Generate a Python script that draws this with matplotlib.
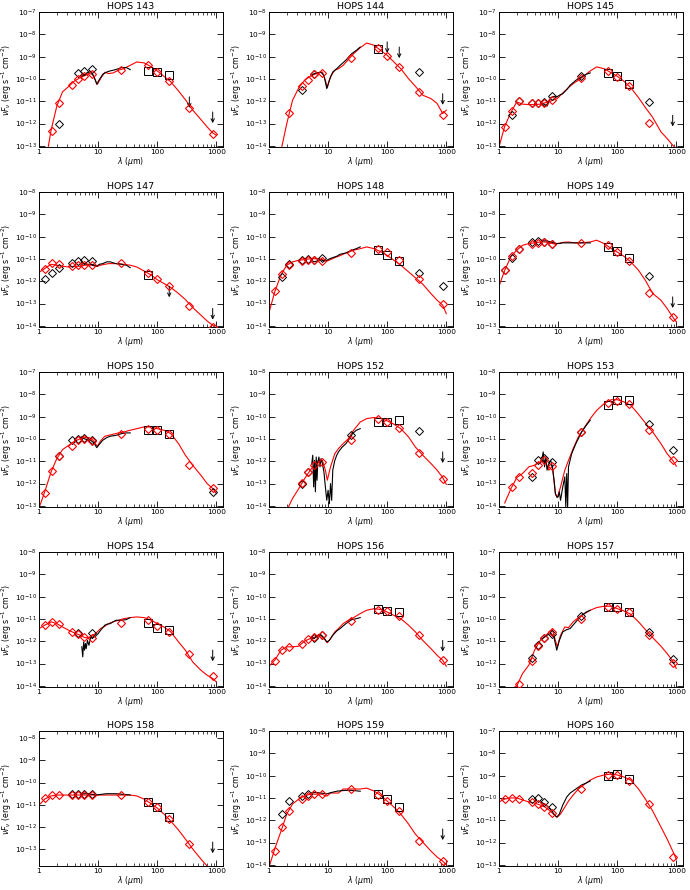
import numpy as np
import matplotlib
matplotlib.use("Agg")
import matplotlib.pyplot as plt
import matplotlib.ticker as ticker

# photometry bands (um): 2MASS, IRAC, MIPS24, PACS 70/100/160, SABOCA, LABOCA
PHOT_WL = [1.25, 1.65, 2.17, 3.6, 4.5, 5.8, 8.0, 24, 70, 100, 160, 350, 870]
# wavelengths at which the model curves were read (um)
SED_WL = [1.0, 1.25, 1.6, 2.0, 2.5, 3.2, 4.0, 5.0, 6.0, 7.0, 8.0, 9.0, 9.7, 11, 13, 15,
          18, 22, 27, 35, 45, 60, 80, 100, 130, 170, 230, 300, 400, 550, 700, 870, 1000]
# wavelengths at which the IRS spectra were read (um)
IRS_WL = [5.2, 5.8, 6.5, 7.5, 8.5, 9.5, 10.5, 12, 14, 16, 20, 25, 30, 35]

names = ['HOPS 143', 'HOPS 144', 'HOPS 145', 'HOPS 147', 'HOPS 148', 'HOPS 149',
         'HOPS 150', 'HOPS 152', 'HOPS 153', 'HOPS 154', 'HOPS 156', 'HOPS 157',
         'HOPS 158', 'HOPS 159', 'HOPS 160']
# log10 of the top of each y axis
ytop = [-7, -8, -7, -8, -8, -7, -7, -8, -8, -8, -8, -7, -7.69, -8, -7]

# all fluxes below are log10(nu F_nu / erg s^-1 cm^-2)
# ---- model SED curves (on SED_WL) ----
sed_143 = [None, -14.0, -12.3, -11.22, -10.58, -10.33, -10.09, -9.94, -9.85, -9.76, -9.79, -10.06, -10.24, -9.99, -9.7, -9.76, -9.73, -9.61, -9.54, -9.39, -9.24, -9.28, -9.46, -9.64, -9.88, -10.13, -10.54, -10.93, -11.4, -11.82, -12.15, -12.42, -12.52]
sed_144 = [None, None, -14.2, -13.0, -11.96, -11.39, -11.06, -10.88, -10.79, -10.73, -10.69, -11.06, -11.39, -10.88, -10.61, -10.54, -10.39, -10.13, -9.87, -9.6, -9.39, -9.49, -9.75, -9.94, -10.24, -10.54, -10.99, -11.33, -11.73, -11.88, -12.1, -12.55, -12.4]
sed_145 = [-13.05, -12.12, -11.48, -11.03, -11.13, -11.15, -11.15, -11.13, -11.07, -11.03, -10.96, -10.91, -10.88, -10.73, -10.54, -10.39, -10.21, -10.06, -9.88, -9.64, -9.46, -9.54, -9.73, -9.88, -10.1, -10.39, -10.84, -11.28, -11.73, -12.37, -12.67, -12.97, -13.12]
sed_147 = [-11.6, -11.43, -11.24, -11.28, -11.33, -11.36, -11.33, -11.33, -11.28, -11.28, -11.28, -11.33, -11.33, -11.28, -11.24, -11.21, -11.21, -11.21, -11.24, -11.28, -11.36, -11.54, -11.73, -11.93, -12.1, -12.28, -12.55, -12.82, -13.18, -13.52, -13.78, -13.97, -14.12]
sed_148 = [-13.4, -12.48, -11.7, -11.28, -11.13, -11.06, -11.03, -10.99, -10.99, -10.99, -11.03, -11.09, -11.09, -11.03, -10.94, -10.88, -10.79, -10.69, -10.61, -10.54, -10.46, -10.54, -10.69, -10.84, -11.06, -11.28, -11.58, -11.84, -12.13, -12.55, -12.85, -13.07, -13.45]
sed_149 = [-11.22, -10.51, -9.88, -9.61, -9.39, -9.31, -9.28, -9.24, -9.24, -9.27, -9.31, -9.34, -9.31, -9.28, -9.25, -9.24, -9.27, -9.28, -9.27, -9.24, -9.16, -9.31, -9.54, -9.69, -9.88, -10.13, -10.51, -10.96, -11.55, -11.85, -12.22, -12.6, -12.82]
sed_150 = [-13.1, -12.37, -11.48, -10.88, -10.48, -10.28, -10.1, -9.99, -9.94, -9.94, -10.03, -10.21, -10.33, -10.09, -9.88, -9.84, -9.79, -9.73, -9.69, -9.61, -9.54, -9.46, -9.46, -9.54, -9.61, -9.76, -10.21, -10.73, -11.18, -11.63, -12.0, -12.22, -12.45]
sed_152 = [None, None, None, -14.2, -13.67, -13.22, -12.78, -12.4, -12.13, -11.96, -11.96, -12.4, -12.85, -12.25, -11.66, -11.43, -11.21, -10.99, -10.61, -10.24, -10.09, -10.04, -10.09, -10.19, -10.34, -10.54, -10.91, -11.36, -11.73, -12.1, -12.4, -12.73, -13.03]
sed_153 = [None, -13.87, -13.22, -12.73, -12.55, -12.25, -12.18, -12.03, -11.96, -12.4, -12.22, -13.45, -13.63, -13.15, -12.4, -11.96, -11.43, -10.91, -10.54, -10.09, -9.72, -9.42, -9.24, -9.24, -9.34, -9.49, -9.9, -10.28, -10.69, -11.21, -11.66, -11.96, -12.22]
sed_154 = [-11.43, -11.28, -11.13, -11.21, -11.36, -11.51, -11.63, -11.73, -11.84, -11.84, -11.73, -11.66, -11.58, -11.43, -11.33, -11.21, -11.13, -11.06, -10.99, -10.94, -10.91, -10.94, -11.06, -11.21, -11.36, -11.58, -12.03, -12.4, -12.93, -13.3, -13.52, -13.67, -13.82]
sed_156 = [-13.12, -12.85, -12.4, -12.25, -12.25, -12.22, -11.99, -11.88, -11.81, -11.69, -11.81, -11.96, -12.07, -11.88, -11.58, -11.43, -11.21, -11.06, -10.94, -10.76, -10.61, -10.54, -10.58, -10.69, -10.84, -10.99, -11.28, -11.58, -11.96, -12.33, -12.63, -12.85, -13.12]
sed_157 = [None, None, -13.15, -13.0, -12.45, -12.07, -11.4, -10.96, -10.81, -10.58, -10.48, -10.96, -11.25, -10.73, -10.36, -10.39, -10.13, -9.94, -9.79, -9.61, -9.49, -9.43, -9.43, -9.54, -9.64, -9.79, -10.13, -10.48, -10.84, -11.22, -11.55, -11.88, -12.22]
sed_158 = [-11.01, -10.74, -10.6, -10.56, -10.56, -10.56, -10.56, -10.56, -10.56, -10.56, -10.56, -10.56, -10.56, -10.56, -10.56, -10.56, -10.56, -10.56, -10.56, -10.56, -10.6, -10.74, -10.96, -11.14, -11.41, -11.73, -12.13, -12.53, -12.98, -13.43, -13.74, -14.1, -14.3]
sed_159 = [-14.1, -13.29, -12.48, -11.72, -11.27, -11.05, -10.91, -10.83, -10.83, -10.83, -10.83, -10.91, -10.91, -10.78, -10.78, -10.78, -10.6, -10.6, -10.6, -10.6, -10.56, -10.69, -10.91, -11.14, -11.41, -11.72, -12.17, -12.62, -12.98, -13.38, -13.65, -13.83, -14.0]
sed_160 = [-10.18, -10.05, -10.0, -10.0, -10.09, -10.18, -10.23, -10.32, -10.41, -10.54, -10.68, -10.81, -10.86, -10.72, -10.41, -10.14, -9.87, -9.6, -9.42, -9.2, -9.06, -8.97, -8.93, -8.97, -9.06, -9.2, -9.6, -10.05, -10.59, -11.3, -11.84, -12.38, -12.74]

# ---- IRS spectra ----
irs_143 = [-9.88, -9.82, -9.73, -9.67, -9.88, -10.24, -10.03, -9.79, -9.69, -9.64, -9.58, -9.49, -9.49, -9.58]
irs_144 = [-10.84, -10.76, -10.73, -10.69, -10.84, -11.43, -11.06, -10.69, -10.54, -10.39, -10.16, -9.87, -9.72, -9.57]
irs_145 = [-11.1, -11.13, -11.22, -10.84, -10.78, -10.81, -10.73, -10.66, -10.48, -10.28, -10.06, -9.91, -9.79, -9.73]
irs_147 = [-11.24, -11.21, -11.24, -11.24, -11.28, -11.33, -11.24, -11.21, -11.13, -11.13, -11.21, -11.24, -11.28, -11.39]
irs_148 = [-11.06, -11.13, -11.09, -11.03, -11.09, -11.06, -11.0, -10.94, -10.88, -10.79, -10.73, -10.61, -10.54, -10.46]
irs_149 = [-9.16, -9.19, -9.19, -9.24, -9.28, -9.31, -9.31, -9.28, -9.28, -9.28, -9.28, -9.28, -9.28, -9.28]
irs_150 = [-9.91, -9.99, -10.03, -10.06, -10.18, -10.39, -10.24, -10.06, -9.94, -9.88, -9.84, -9.76, -9.73, -9.73]
irs_156 = [-11.84, -11.88, -11.78, -11.7, -11.84, -12.03, -11.96, -11.73, -11.54, -11.43, -11.21, -11.03, -10.99, -10.94]
irs_157 = [-10.93, -10.81, -10.73, -10.63, -10.81, -11.4, -10.96, -10.58, -10.48, -10.43, -10.13, -9.84, -9.69, -9.61]
irs_158 = [-10.52, -10.5, -10.5, -10.52, -10.54, -10.56, -10.54, -10.52, -10.5, -10.5, -10.5, -10.52, -10.54, -10.56]
irs_159 = [-10.78, -10.76, -10.76, -10.78, -10.8, -10.82, -10.78, -10.74, -10.7, -10.68, -10.66, -10.66, -10.68, -10.7]
irs_160 = [-10.18, -10.27, -10.36, -10.5, -10.72, -10.86, -10.72, -10.32, -9.96, -9.78, -9.6, -9.42, -9.33, -9.24]
# noisy spectra, read on their own wavelengths
irs_152_wl = [5.3, 5.5, 5.7, 5.9, 6.1, 6.3, 6.5, 6.7, 7.0, 7.3, 7.6, 8.0, 8.5, 9.0, 9.5, 10.0, 10.5, 11.0, 11.5, 12, 13, 14, 15, 17, 20, 23, 26, 30, 35]
irs_152 = [-12.1, -11.73, -13.15, -11.96, -13.37, -11.81, -12.85, -12.03, -11.81, -12.25, -11.88, -12.1, -12.48, -13.15, -13.75, -13.3, -13.9, -13.0, -13.75, -12.4, -11.96, -11.73, -11.58, -11.39, -11.21, -10.99, -10.76, -10.61, -10.54]
irs_153_wl = [5.3, 5.6, 5.9, 6.2, 6.5, 7.0, 7.5, 8.0, 8.5, 9.0, 9.5, 10.0, 10.5, 11, 12, 13, 13.5, 14, 14.5, 15, 17, 20, 25, 30, 35]
irs_153 = [-11.96, -11.58, -12.25, -11.81, -12.4, -12.1, -11.96, -12.25, -12.78, -13.45, -13.6, -13.6, -13.37, -13.75, -13.15, -12.7, -14.04, -12.55, -14.04, -12.25, -11.66, -11.21, -10.69, -10.39, -10.16]
irs_154_wl = [5.3, 5.5, 5.7, 5.9, 6.1, 6.3, 6.6, 7.0, 7.5, 8.0, 8.5, 9.0, 10, 11, 12, 13, 14, 16, 18, 20, 25, 30, 35]
irs_154 = [-12.25, -12.7, -12.03, -12.4, -12.1, -12.33, -11.96, -12.18, -11.81, -11.88, -11.81, -11.78, -11.66, -11.51, -11.39, -11.28, -11.24, -11.21, -11.13, -11.06, -11.06, -11.03, -10.94]

# ---- observed photometry (on PHOT_WL; 70/100/160 drawn as squares) ----
obs_143 = [None, None, -12.03, None, -9.73, -9.64, -9.57, None, -9.66, -9.69, -9.84, None, None]
obs_144 = [None, None, None, -11.48, None, -10.79, None, None, -9.64, None, None, -10.69, None]
obs_145 = [None, -11.63, -11.0, -11.06, -11.06, -11.03, -10.78, -9.88, -9.73, -9.88, -10.24, -11.03, None]
obs_147 = [-11.88, -11.63, -11.39, -11.18, -11.1, -11.06, -11.1, None, -11.73, None, None, None, None]
obs_148 = [None, -11.81, -11.24, -11.06, -10.99, -11.06, -10.94, None, -10.61, -10.84, -11.1, -11.63, -12.22]
obs_149 = [-10.51, -9.94, -9.57, -9.24, -9.19, -9.24, -9.31, None, -9.46, -9.66, -9.94, -10.78, None]
obs_150 = [None, None, -10.78, -10.06, -9.99, -9.94, -10.06, None, -9.58, -9.61, -9.76, None, -12.37]
obs_152 = [None, None, None, -13.0, -12.48, None, None, -10.84, -10.24, -10.24, -10.16, -10.66, None]
obs_153 = [None, None, None, -12.7, -11.96, -11.85, -12.03, -10.69, -9.49, -9.24, -9.24, -10.31, -11.48]
obs_154 = [None, None, None, None, -11.63, None, -11.63, None, -11.18, -11.39, -11.48, None, None]
obs_156 = [None, None, None, None, None, -11.84, -11.7, None, -10.57, -10.64, -10.69, None, None]
obs_157 = [None, None, None, -11.73, -11.18, -10.84, -10.66, -9.88, -9.46, -9.46, -9.69, -10.58, -11.78]
obs_158 = [None, None, None, -10.52, -10.52, -10.52, -10.52, None, -10.87, -11.1, -11.55, None, None]
obs_159 = [None, -11.72, -11.14, -10.91, -10.83, None, None, None, -10.83, -11.05, -11.41, None, None]
obs_160 = [None, None, None, -10.05, -10.0, -10.18, -10.41, None, -9.02, -8.93, -9.15, None, None]

# ---- upper limits: (wavelength, log flux at top of arrow) ----
lim_143 = [(350, -10.8), (870, -11.48)]
lim_144 = [(100, -9.34), (160, -9.57), (870, -11.66)]
lim_145 = [(870, -11.63)]
lim_147 = [(160, -12.22), (870, -13.22)]
lim_148 = []
lim_149 = [(870, -11.7)]
lim_150 = []
lim_152 = [(870, -11.58)]
lim_153 = []
lim_154 = [(870, -12.4)]
lim_156 = [(870, -11.96)]
lim_157 = []
lim_158 = [(870, -12.67)]
lim_159 = [(870, -12.39)]
lim_160 = []

# ---- model fluxes in the photometric bands ----
mod_143 = [None, -12.34, -11.1, -10.28, -10.01, -9.85, -9.79, -9.58, -9.39, -9.69, -10.09, -11.28, -12.45]
mod_144 = [None, None, -12.52, -11.31, -11.06, -10.79, -10.73, -10.06, -9.61, -9.99, -10.46, -11.58, -12.63]
mod_145 = [-12.15, -11.43, -11.0, -11.1, -11.1, -11.07, -10.96, -9.94, -9.64, -9.91, -10.33, -11.96, None]
mod_147 = [-11.43, -11.18, -11.24, -11.33, -11.28, -11.28, -11.28, -11.18, -11.63, -11.88, -12.22, -13.12, -14.04]
mod_148 = [-12.45, -11.66, -11.28, -11.1, -11.03, -11.03, -11.09, -10.73, -10.54, -10.69, -11.06, -11.91, -13.04]
mod_149 = [-10.51, -9.88, -9.57, -9.34, -9.28, -9.24, -9.34, -9.28, -9.39, -9.69, -10.09, -11.51, -12.6]
mod_150 = [-12.42, -11.45, -10.78, -10.33, -10.06, -10.01, -10.09, -9.76, -9.54, -9.61, -9.76, -11.15, -12.22]
mod_152 = [None, None, None, -12.97, -12.48, -12.18, -12.03, -11.03, -10.09, -10.24, -10.51, -11.63, -12.78]
mod_153 = [None, -13.15, -12.7, -12.52, -12.18, -11.93, -12.22, -10.69, -9.39, -9.3, -9.42, -10.61, -11.96]
mod_154 = [-11.28, -11.13, -11.24, -11.58, -11.69, -11.81, -11.84, -11.18, -11.06, -11.33, -11.58, -12.55, -13.57]
mod_156 = [-12.88, -12.4, -12.25, -12.13, -11.88, -11.81, -11.73, -11.1, -10.58, -10.66, -10.87, -11.7, -12.82]
mod_157 = [None, None, -12.93, -11.88, -11.22, -10.84, -10.58, -9.99, -9.46, -9.57, -9.69, -10.7, -11.97]
mod_158 = [-10.7, -10.58, -10.56, -10.56, -10.56, -10.56, -10.58, -10.56, -10.87, -11.1, -11.64, -12.76, None]
mod_159 = [-13.38, -12.3, -11.59, -11.05, -10.91, -10.83, -10.83, -10.6, -10.87, -11.14, -11.59, -12.93, -13.83]
mod_160 = [-10.05, -10.0, -10.05, -10.18, -10.27, -10.41, -10.68, -9.6, -8.97, -8.97, -9.24, -10.27, -12.65]

seds = [sed_143, sed_144, sed_145, sed_147, sed_148, sed_149, sed_150, sed_152, sed_153,
        sed_154, sed_156, sed_157, sed_158, sed_159, sed_160]
irs = [(IRS_WL, irs_143), (IRS_WL, irs_144), (IRS_WL, irs_145), (IRS_WL, irs_147),
       (IRS_WL, irs_148), (IRS_WL, irs_149), (IRS_WL, irs_150), (irs_152_wl, irs_152),
       (irs_153_wl, irs_153), (irs_154_wl, irs_154), (IRS_WL, irs_156), (IRS_WL, irs_157),
       (IRS_WL, irs_158), (IRS_WL, irs_159), (IRS_WL, irs_160)]
obs = [obs_143, obs_144, obs_145, obs_147, obs_148, obs_149, obs_150, obs_152, obs_153,
       obs_154, obs_156, obs_157, obs_158, obs_159, obs_160]
lims = [lim_143, lim_144, lim_145, lim_147, lim_148, lim_149, lim_150, lim_152, lim_153,
        lim_154, lim_156, lim_157, lim_158, lim_159, lim_160]
mods = [mod_143, mod_144, mod_145, mod_147, mod_148, mod_149, mod_150, mod_152, mod_153,
        mod_154, mod_156, mod_157, mod_158, mod_159, mod_160]


def tolin(v):
    return 10.0 ** np.array(v, dtype=float)


plt.rcParams['font.family'] = 'DejaVu Sans'
plt.rcParams['mathtext.fontset'] = 'dejavusans'

W, H = 690, 890
fig = plt.figure(figsize=(W / 100, H / 100), dpi=100)

col_left = [39, 269, 499]
row_top = [12, 192, 372, 552, 731]
aw, ah = 184, 135
span = 6.05  # decades shown on every y axis

pw = np.array(PHOT_WL)
sq = slice(8, 11)

for i, name in enumerate(names):
    r, c = divmod(i, 3)
    ax = fig.add_axes([col_left[c] / W, 1 - (row_top[r] + ah) / H, aw / W, ah / H])
    ax.set_xscale('log')
    ax.set_yscale('log')

    ax.plot(SED_WL, tolin(seds[i]), color='red', lw=0.8, zorder=2)
    ax.plot(irs[i][0], tolin(irs[i][1]), color='black', lw=0.8, zorder=3)

    o = tolin(obs[i])
    dia = np.ones(len(pw), bool)
    dia[sq] = False
    ax.plot(pw[dia], o[dia], 'D', mfc='none', mec='black', ms=4.2, mew=0.7, zorder=4)
    ax.plot(pw[sq], o[sq], 's', mfc='none', mec='black', ms=5.2, mew=0.7, zorder=4)

    ax.plot(pw, tolin(mods[i]), 'D', mfc='none', mec='red', ms=4.2, mew=0.8, zorder=5)

    for wl, f in lims[i]:
        ax.annotate('', xy=(wl, 10 ** (f - 0.5)), xytext=(wl, 10 ** f),
                    arrowprops=dict(arrowstyle='->', lw=0.7, color='black',
                                    shrinkA=0, shrinkB=0, mutation_scale=6))

    hi = ytop[i]
    lo = hi - span
    ax.set_ylim(10 ** lo, 10 ** hi)
    ax.set_xlim(1, 1300)

    # only decades inside the shown range get a tick
    decs = np.arange(np.ceil(lo - 1e-6), np.floor(hi + 1e-6) + 1)
    ax.yaxis.set_major_locator(ticker.FixedLocator(10.0 ** decs))
    ax.yaxis.set_major_formatter(ticker.FixedFormatter(
        [r'$10^{%d}$' % d for d in decs]))
    ax.yaxis.set_minor_locator(ticker.NullLocator())

    ax.xaxis.set_major_locator(ticker.FixedLocator([1, 10, 100, 1000]))
    ax.xaxis.set_major_formatter(ticker.FixedFormatter(['1', '10', '100', '1000']))
    minors = [m * 10 ** e for e in range(0, 4) for m in range(2, 10) if m * 10 ** e < 1300]
    ax.xaxis.set_minor_locator(ticker.FixedLocator(minors))
    ax.xaxis.set_minor_formatter(ticker.NullFormatter())

    ax.tick_params(which='both', direction='in', top=True, right=True, labelsize=5.3, pad=1.5)
    ax.tick_params(which='major', length=4, width=0.6)
    ax.tick_params(which='minor', length=2, width=0.5)
    for s in ax.spines.values():
        s.set_linewidth(0.7)

    ax.set_title(name, fontsize=6.8, pad=2)
    ax.set_xlabel(r'$\lambda$ ($\mu$m)', fontsize=5.6, labelpad=0)
    ax.set_ylabel(r'$\nu F_\nu$ (erg s$^{-1}$ cm$^{-2}$)', fontsize=5.6, labelpad=0.5)

fig.savefig('out.png', dpi=100)
